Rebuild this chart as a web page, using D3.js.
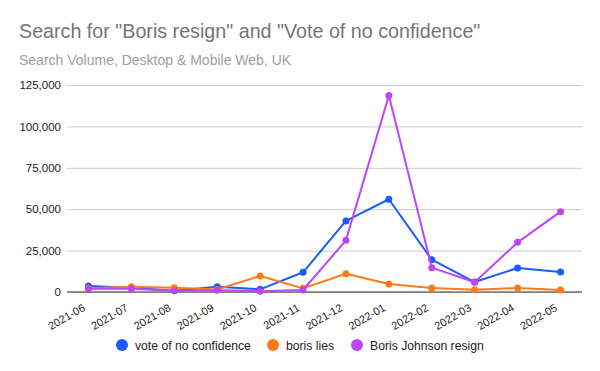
<!DOCTYPE html>
<html>
<head>
<meta charset="utf-8">
<script src="https://cdn.jsdelivr.net/npm/d3@7"></script>
<style>
  body { margin: 0; background: #fff; }
  svg { display: block; font-family: Arial, "Liberation Sans", sans-serif; }
</style>
</head>
<body>
<div id="chart"></div>
<script>
(function () {
  'use strict';
  const months = ['2021-06', '2021-07', '2021-08', '2021-09', '2021-10', '2021-11',
    '2021-12', '2022-01', '2022-02', '2022-03', '2022-04', '2022-05'];
  const voteOfNoConfidence = [3600, 2600, 800, 3200, 1600, 11900, 42900, 56000, 19500, 6000, 14500, 12100];
  const borisLies = [2300, 3200, 2600, 1500, 9700, 2200, 11000, 4800, 2400, 1400, 2400, 1200];
  const borisResign = [2000, 2000, 700, 1000, 500, 1200, 31200, 118600, 14700, 5900, 30000, 48500];
  const yTicks = [0, 25000, 50000, 75000, 100000, 125000];

  const seriesNames = ['vote of no confidence', 'boris lies', 'Boris Johnson resign'];
  const seriesValues = [voteOfNoConfidence, borisLies, borisResign];
  const colors = ['#1a5cff', '#ff7a1a', '#bf45fa'];

  const width = 600;
  const height = 371;
  const left = 67, right = 582, top = 85, bottom = 292;

  const svg = d3.select('#chart')
    .append('svg')
    .attr('width', width)
    .attr('height', height);

  // titles
  svg.append('text')
    .attr('x', 19).attr('y', 38)
    .attr('fill', '#757575')
    .style('font-size', '19.7px')
    .text('Search for "Boris resign" and "Vote of no confidence"');

  svg.append('text')
    .attr('x', 19).attr('y', 65)
    .attr('fill', '#9e9e9e')
    .style('font-size', '14px')
    .text('Search Volume, Desktop & Mobile Web, UK');

  const x = d3.scalePoint()
    .domain(months)
    .range([left, right])
    .padding(0.5);

  const y = d3.scaleLinear()
    .domain([0, 125000])
    .range([bottom, top]);

  // gridlines + y labels
  const yAxis = d3.axisLeft(y)
    .tickValues(yTicks)
    .tickSize(-(right - left))
    .tickPadding(6)
    .tickFormat(d3.format(','));

  const gy = svg.append('g')
    .attr('transform', 'translate(' + left + ',0)')
    .call(yAxis);
  gy.select('.domain').remove();
  gy.selectAll('line').attr('stroke', '#cccccc');
  gy.selectAll('text')
    .attr('fill', '#222')
    .style('font-size', '11.5px');

  // baseline
  svg.append('line')
    .attr('x1', left).attr('x2', right)
    .attr('y1', y(0)).attr('y2', y(0))
    .attr('stroke', '#333')
    .attr('stroke-width', 1);

  // x labels
  const xAxis = d3.axisBottom(x).tickSize(0).tickPadding(0);
  const gx = svg.append('g')
    .attr('transform', 'translate(0,' + bottom + ')')
    .call(xAxis);
  gx.select('.domain').remove();
  gx.selectAll('text')
    .attr('fill', '#222')
    .style('font-size', '11px')
    .attr('text-anchor', 'end')
    .attr('dy', null)
    .attr('transform', 'translate(-3,18) rotate(-30)');

  // lines
  const line = d3.line()
    .x((d, i) => x(months[i]))
    .y(d => y(d));

  seriesValues.forEach(function (vals, s) {
    svg.append('path')
      .datum(vals)
      .attr('fill', 'none')
      .attr('stroke', colors[s])
      .attr('stroke-width', 2)
      .attr('stroke-linejoin', 'round')
      .attr('d', line);
    svg.append('g')
      .selectAll('circle')
      .data(vals)
      .enter()
      .append('circle')
      .attr('cx', (d, i) => x(months[i]))
      .attr('cy', d => y(d))
      .attr('r', 3.5)
      .attr('fill', colors[s]);
  });

  // legend
  const legendX = [122, 273, 357];
  const legend = svg.append('g');
  seriesNames.forEach(function (name, i) {
    legend.append('circle')
      .attr('cx', legendX[i]).attr('cy', 345)
      .attr('r', 6)
      .attr('fill', colors[i]);
    legend.append('text')
      .attr('x', legendX[i] + 13).attr('y', 349.5)
      .attr('fill', '#222')
      .style('font-size', '12.2px')
      .text(name);
  });
}());
</script>
</body>
</html>
